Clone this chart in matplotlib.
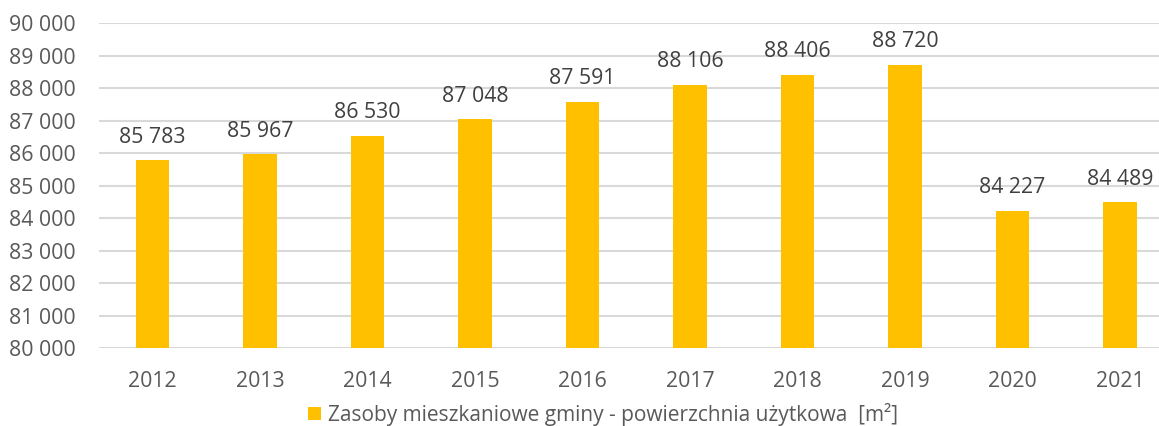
import matplotlib
matplotlib.use('Agg')
from matplotlib import pyplot as plt
from matplotlib.patches import Patch
from matplotlib.ticker import FuncFormatter

years = ['2012', '2013', '2014', '2015', '2016', '2017', '2018', '2019', '2020', '2021']
values = [85783, 85967, 86530, 87048, 87591, 88106, 88406, 88720, 84227, 84489]
y_ticks = [80000, 81000, 82000, 83000, 84000, 85000, 86000, 87000, 88000, 89000, 90000]
series_name = 'Zasoby mieszkaniowe gminy - powierzchnia użytkowa  [m²]'

bar_color = '#FFC000'
grid_color = '#D9D9D9'
text_color = '#595959'
label_color = '#404040'

plt.rcParams['font.family'] = ['Open Sans', 'DejaVu Sans']


def fmt(v):
    # thousands separated with a space, like the original
    return '{:,}'.format(int(v)).replace(',', ' ')


fig = plt.figure(figsize=(11.59, 4.26), dpi=100)
ax = fig.add_axes([98.75 / 1159, 1 - 348.3 / 426, 1 - 98.75 / 1159, (348.3 - 23.3) / 426])

x = list(range(len(years)))
ax.bar(x, values, width=0.315, color=bar_color, zorder=3)

for xi, v in zip(x, values):
    ax.annotate(fmt(v), (xi, v), xytext=(0, 12.7), textcoords='offset points',
                ha='center', va='baseline', fontsize=15.3, color=label_color)

ax.set_xlim(-0.5, (1159 - 98.75) / 107.5 - 0.5)
ax.set_ylim(80000, 90000)
ax.set_yticks(y_ticks)
ax.yaxis.set_major_formatter(FuncFormatter(lambda v, p: fmt(v)))
ax.set_xticks(x)
ax.set_xticklabels(years)
ax.tick_params(axis='y', length=0, pad=16.4, labelsize=15.3, labelcolor=text_color)
ax.tick_params(axis='x', length=0, pad=16, labelsize=15.3, labelcolor=text_color)
ax.grid(axis='y', color=grid_color, linewidth=1.5, zorder=0)
for s in ax.spines.values():
    s.set_visible(False)

handle = Patch(facecolor=bar_color, edgecolor='none')
ax.legend([handle], [series_name], loc='center', bbox_to_anchor=(603 / 1159, 1 - 414 / 426),
          bbox_transform=fig.transFigure, frameon=False, fontsize=15,
          labelcolor=text_color, handlelength=0.6, handleheight=0.6, handletextpad=0.35,
          borderpad=0, borderaxespad=0)

fig.savefig('out.png', dpi=100)
